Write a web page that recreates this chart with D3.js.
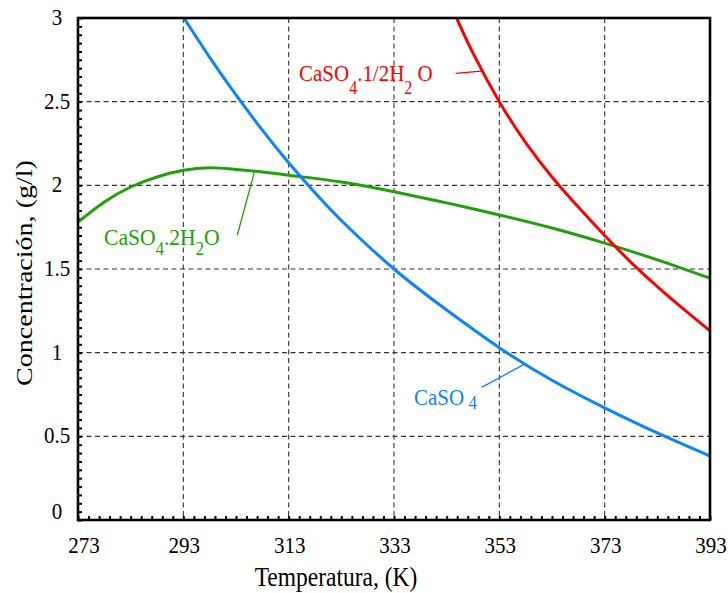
<!DOCTYPE html>
<html>
<head>
<meta charset="utf-8">
<script src="https://cdn.jsdelivr.net/npm/d3@7"></script>
<style>
  html, body { margin: 0; padding: 0; background: #fff; }
  svg text { font-family: "Liberation Serif", "Times New Roman", serif; }
</style>
</head>
<body>
<svg id="chart" width="728" height="593"></svg>
<script>
// Axis ticks
const xTicks = [273, 293, 313, 333, 353, 373, 393];
const yTicks = [0, 0.5, 1, 1.5, 2, 2.5, 3];
const yTickLabels = ["0", "0.5", "1", "1.5", "2", "2.5", "3"];

// CaSO4 (anhydrite) solubility
const anhT = [293.1, 298, 303, 308, 313, 318, 323, 333, 343, 353, 363, 373, 383, 393];
const anhV = [3.0, 2.765, 2.54, 2.33, 2.135, 1.955, 1.79, 1.50, 1.255, 1.03, 0.835, 0.67, 0.52, 0.382];

// CaSO4.2H2O (gypsum) solubility
const gypT = [273, 278, 283, 288, 293, 298, 303, 308, 313, 323, 333, 343, 353, 363, 373, 383, 393];
const gypV = [1.78, 1.90, 1.99, 2.05, 2.09, 2.105, 2.095, 2.08, 2.06, 2.02, 1.962, 1.895, 1.823, 1.745, 1.655, 1.555, 1.445];

// CaSO4.1/2H2O (hemihydrate) solubility
const hemT = [344.9, 348, 353, 358, 363, 368, 373, 378, 383, 388, 393];
const hemV = [3.0, 2.79, 2.5, 2.255, 2.05, 1.87, 1.70, 1.54, 1.395, 1.26, 1.13];

const svg = d3.select("#chart");
const mLeft = 78, mRight = 710, mTop = 18, mBottom = 520;
const x = d3.scaleLinear().domain([273, 393]).range([mLeft, mRight]);
const y = d3.scaleLinear().domain([0, 3]).range([mBottom, mTop]);
const SY = 1.12; // text is drawn slightly tall

svg.append("defs").append("clipPath").attr("id", "plotClip")
  .append("rect").attr("x", mLeft).attr("y", mTop)
  .attr("width", mRight - mLeft).attr("height", mBottom - mTop);

// dashed grid
const grid = svg.append("g").attr("stroke", "#333").attr("stroke-width", 1.1)
  .attr("stroke-dasharray", "5,3.5");
grid.selectAll("line.v").data(xTicks.slice(1, -1)).join("line").attr("class", "v")
  .attr("x1", d => x(d)).attr("x2", d => x(d)).attr("y1", mTop).attr("y2", mBottom);
grid.selectAll("line.h").data(yTicks.slice(1, -1)).join("line").attr("class", "h")
  .attr("x1", mLeft).attr("x2", mRight).attr("y1", d => y(d)).attr("y2", d => y(d));

// inward minor ticks on left and bottom axes
const yAxis = d3.axisLeft(y).tickValues(d3.range(0, 3.0001, 0.05)).tickSize(-4).tickFormat("");
const xAxis = d3.axisBottom(x).tickValues(d3.range(273, 393.001, 2)).tickSize(-4).tickFormat("");
const gy = svg.append("g").attr("transform", `translate(${mLeft},0)`).call(yAxis);
const gx = svg.append("g").attr("transform", `translate(0,${mBottom})`).call(xAxis);
[gx, gy].forEach(g => {
  g.select(".domain").remove();
  g.selectAll(".tick line").attr("stroke", "#000").attr("stroke-width", 2);
});

// curves
const line = d3.line().x(d => x(d[0])).y(d => y(d[1])).curve(d3.curveNatural);
const curves = svg.append("g").attr("clip-path", "url(#plotClip)").attr("fill", "none")
  .attr("stroke-width", 3).attr("stroke-linejoin", "round");
curves.append("path").datum(d3.zip(gypT, gypV)).attr("d", line).attr("stroke", "#22a00a");
curves.append("path").datum(d3.zip(anhT, anhV)).attr("d", line).attr("stroke", "#0a84ff");
curves.append("path").datum(d3.zip(hemT, hemV)).attr("d", line).attr("stroke", "#ff0000");

// frame
svg.append("rect").attr("x", mLeft).attr("y", mTop).attr("width", mRight - mLeft)
  .attr("height", mBottom - mTop).attr("fill", "none").attr("stroke", "#000").attr("stroke-width", 2.6);

// text helper: parts = [[string, baseline shift, size]]
function label(px, py, parts, color, size, anchor, sx) {
  const t = svg.append("text")
    .attr("transform", `translate(${px},${py}) scale(${sx || 1},${SY})`)
    .attr("fill", color).attr("font-size", size)
    .attr("text-anchor", anchor || "start");
  let cur = 0;
  parts.forEach(([s, shift, fs]) => {
    const ts = t.append("tspan").text(s).attr("dy", shift - cur);
    if (fs) ts.attr("font-size", fs);
    cur = shift;
  });
  return t;
}

// tick labels
xTicks.forEach((v, i) => {
  label(x(v) + (i === 0 ? 6 : 1), 553, [[String(v), 0]], "#000", 21, "middle");
});
yTicks.forEach((v, i) => {
  const yy = y(v) + (i === 0 ? -1 : 7);
  label(57, yy, [[yTickLabels[i], 0]], "#000", 21, "middle");
});

// axis titles
label(336, 586, [["Temperatura, (K)", 0]], "#000", 23.5, "middle");
svg.append("text")
  .attr("transform", `translate(32,${(mTop + mBottom) / 2 + 4}) rotate(-90) scale(1.22,1)`)
  .attr("font-size", 23).attr("text-anchor", "middle").attr("fill", "#000")
  .text("Concentración, (g/l)");

// series annotations with leader lines
const leaders = svg.append("g").attr("stroke-width", 1.3);
leaders.append("line").attr("stroke", "#ff0000")
  .attr("x1", x(344.7)).attr("y1", y(2.669)).attr("x2", x(350.1)).attr("y2", y(2.684));
leaders.append("line").attr("stroke", "#22a00a")
  .attr("x1", x(303.25)).attr("y1", y(1.703)).attr("x2", x(306.5)).attr("y2", y(2.08));
leaders.append("line").attr("stroke", "#0a84ff")
  .attr("x1", x(349.65)).attr("y1", y(0.793)).attr("x2", x(357.7)).attr("y2", y(0.93));

label(299, 81, [["CaSO", 0], ["4", 12, 16], [".1/2H", 0], ["2", 12, 16], [" O", 0]], "#ff0000", 21);
label(104, 245, [["CaSO", 0], ["4", 9, 16], [".2H", 0], ["2", 9, 16], ["O", 0]], "#22a00a", 21, "start", 1.03);
label(414, 405, [["CaSO", 0], [" 4", 4, 17]], "#0a84ff", 21);
</script>
</body>
</html>
